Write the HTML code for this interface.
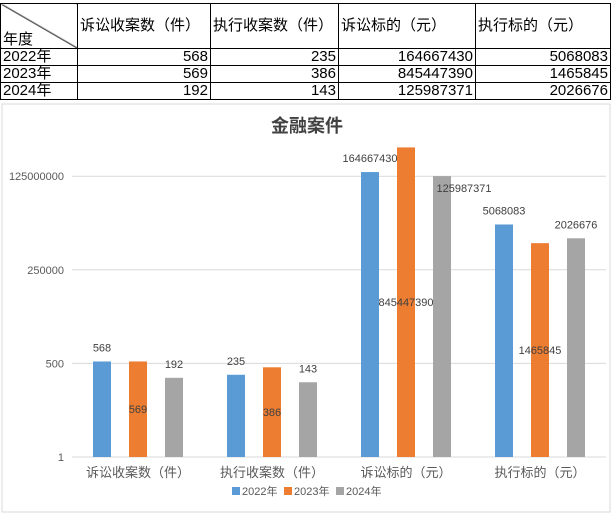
<!DOCTYPE html>
<html><head><meta charset="utf-8"><style>
body{margin:0;width:614px;height:514px;background:#fff;overflow:hidden;font-family:"Liberation Sans","Noto Sans CJK SC",sans-serif;}
table{position:absolute;left:0;top:3px;border-collapse:collapse;font-size:15px;}
td{border:1px solid #000;padding:0 2px;height:16px;line-height:16px;}
</style></head><body>
<table>
<tr style="height:45px"><td style="width:72px;height:43px;position:relative;vertical-align:bottom;background:linear-gradient(to top right,transparent 49%,#333 50%,transparent 52%)">年度</td>
<td style="width:128px">诉讼收案数（件）</td><td style="width:123px">执行收案数（件）</td><td style="width:132px">诉讼标的（元）</td><td style="width:130px">执行标的（元）</td></tr>
<tr><td>2022年</td><td align="right">568</td><td align="right">235</td><td align="right">164667430</td><td align="right">5068083</td></tr>
<tr><td>2023年</td><td align="right">569</td><td align="right">386</td><td align="right">845447390</td><td align="right">1465845</td></tr>
<tr><td>2024年</td><td align="right">192</td><td align="right">143</td><td align="right">125987371</td><td align="right">2026676</td></tr>
</table>
<svg id="chart" width="614" height="514" style="position:absolute;left:0;top:0">
<rect x="2" y="104" width="608" height="408" fill="#fff" stroke="#d9d9d9"/>
<text x="307" y="132" text-anchor="middle" font-size="18" font-weight="bold" fill="#404040">金融案件</text>
</svg>
<script>
const categories=["诉讼收案数（件）","执行收案数（件）","诉讼标的（元）","执行标的（元）"];
const seriesNames=["2022年","2023年","2024年"];
const s2022=[568,235,164667430,5068083];
const s2023=[569,386,845447390,1465845];
const s2024=[192,143,125987371,2026676];
const tickLabels=["1","500","250000","125000000"];
const colors=["#5b9bd5","#ed7d31","#a5a5a5"];
const svg=document.getElementById('chart');
const NS="http://www.w3.org/2000/svg";
const y=v=>457-Math.log(v)/Math.log(500)*93.6;
const xc=i=>138+i*134;
function mk(t,a,txt){const e=document.createElementNS(NS,t);for(const k in a)e.setAttribute(k,a[k]);if(txt!==undefined)e.textContent=txt;svg.appendChild(e);return e;}
tickLabels.forEach((t,i)=>{const v=Math.pow(500,i);
const g=mk('line',{x1:72,x2:606,y1:y(v),y2:y(v),stroke:'#d9d9d9'});


const l=mk('text',{x:64,y:y(v)+4,'text-anchor':'end','font-size':11,fill:'#595959'},t);

});
categories.forEach((c,i)=>{const l=mk('text',{x:xc(i),y:477,'text-anchor':'middle','font-size':13,fill:'#595959'},c);

});
[s2022,s2023,s2024].forEach((s,k)=>{s.forEach((v,i)=>{const cx=xc(i)+(k-1)*36;const top=y(v);
const b=mk('rect',{x:cx-9,y:top,width:18,height:457-top,fill:colors[k]});


let ty=k===1?(top+457)/2+4:top-10;
let tx=cx;
if(k===2&&i===2){ty=top+16;tx=cx+22;}
const t=mk('text',{x:tx,y:ty,'text-anchor':'middle','font-size':11,fill:'#404040'},String(v));

});});
seriesNames.forEach((n,k)=>{const x=232+k*52;
const r=mk('rect',{x:x,y:487,width:8,height:8,fill:colors[k]});


const t=mk('text',{x:x+10,y:495,'font-size':11,fill:'#595959'},n);

});
</script>
</body></html>
